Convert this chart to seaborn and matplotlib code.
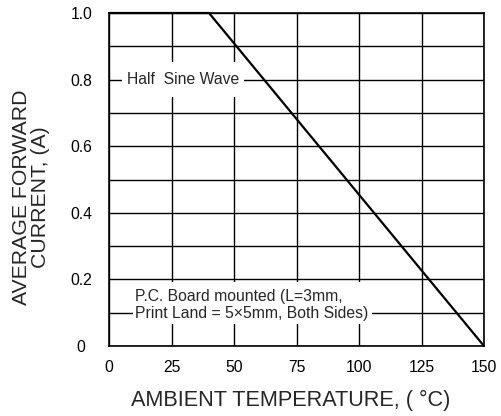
import matplotlib
matplotlib.use("Agg")
import matplotlib.pyplot as plt
from matplotlib.patches import Rectangle
import seaborn as sns
import pandas as pd

# Data
temperature = [0, 40, 150]
current = [1.0, 1.0, 0.0]
x_ticks = [0, 25, 50, 75, 100, 125, 150]
y_ticks = [0.0, 0.1, 0.2, 0.3, 0.4, 0.5, 0.6, 0.7, 0.8, 0.9, 1.0]
y_tick_labels = ["0", "", "0.2", "", "0.4", "", "0.6", "", "0.8", "", "1.0"]
note_wave = "Half  Sine Wave"
note_board = "P.C. Board mounted (L=3mm,\nPrint Land = 5\u00d75mm, Both Sides)"
x_label = "AMBIENT TEMPERATURE, ( \u00b0C)"
y_label = "AVERAGE FORWARD\nCURRENT, (A)"

sns.set_style("white")
plt.rcParams["font.family"] = ["Liberation Sans", "DejaVu Sans"]

df = pd.DataFrame({"t": temperature, "i": current})

fig = plt.figure(figsize=(5.02, 4.16), dpi=100)
ax = fig.add_axes([109 / 502, 1 - 346 / 416, 375 / 502, 333 / 416])

sns.lineplot(data=df, x="t", y="i", ax=ax, color="black", linewidth=1.6,
             zorder=5, clip_on=False)

ax.set_xlim(0, 150)
ax.set_ylim(0, 1.0)
ax.set_xticks(x_ticks)
ax.set_xticklabels([str(v) for v in x_ticks], fontsize=11.3)
ax.set_yticks(y_ticks)
ax.set_yticklabels(y_tick_labels, fontsize=11.3, ha="center")
ax.tick_params(axis="both", length=0, colors="black")
ax.tick_params(axis="y", pad=20)
ax.tick_params(axis="x", pad=10)

ax.grid(True, color="black", linewidth=1.0)
ax.set_axisbelow(True)
for s in ax.spines.values():
    s.set_color("black")
    s.set_linewidth(1.2)

ax.set_xlabel(x_label, fontsize=15.6, va="center")
ax.xaxis.set_label_coords((291 - 109) / 375, (346 - 400) / 333)
ax.set_ylabel(y_label, fontsize=15.3, linespacing=1.05, va="center", ha="center")
ax.yaxis.set_label_coords((31 - 109) / 375, (346 - 197) / 333)

# White boxes behind annotations
ax.add_patch(Rectangle((5.2, 0.748), 48.8, 0.105, facecolor="white",
                       edgecolor="none", zorder=3))
ax.text(7.2, 0.8, note_wave, fontsize=11.3, va="center", ha="left", zorder=4)

ax.add_patch(Rectangle((9.6, 0.066), 95.6, 0.126, facecolor="white",
                       edgecolor="none", zorder=3))
ax.text(10.4, 0.123, note_board, fontsize=11.3, va="center", ha="left",
        linespacing=1.15, zorder=4)

fig.savefig("out.png", dpi=100)
